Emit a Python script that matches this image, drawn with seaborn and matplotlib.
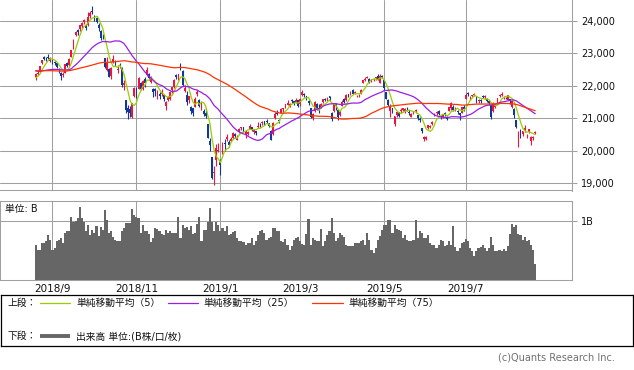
import numpy as np
import pandas as pd
import matplotlib
matplotlib.use("Agg")
import matplotlib.pyplot as plt
import seaborn as sns

# ---------------- data ----------------
holidays = ["2018-09-17", "2018-09-24", "2018-10-08", "2018-11-23", "2018-12-24",
            "2018-12-31", "2019-01-01", "2019-01-02", "2019-01-03", "2019-01-14",
            "2019-02-11", "2019-03-21", "2019-04-29", "2019-04-30", "2019-05-01",
            "2019-05-02", "2019-05-03", "2019-05-06", "2019-07-15", "2019-08-12"]
first_day = "2018-08-22"
last_day = "2019-08-19"

# closes before the first shown day (only used to seed the moving averages)
prior_close = [22473, 22467, 22509, 22409, 22497, 22758, 22865, 22818, 22717, 22838,
               22930, 23002, 22960, 22689, 22437, 22450, 22481, 22358, 22018, 22201,
               22171, 22475, 22539, 22625, 22823, 22694, 22804, 22878, 22966, 22738,
               22851, 22680, 22278, 22555, 22693, 22516, 22338, 22342, 22271, 22270, 22304,
               21811, 21785, 21717, 21546, 21788, 22052, 22196, 21932, 22187, 22597,
               22697, 22794, 22764, 22698, 22397, 22510, 22614, 22586, 22712, 22544, 22553,
               22746, 22512, 22525, 22507, 22662, 22644, 22598, 22298, 21857, 22356,
               22204, 22192, 22270, 22199, 22219]

open_ = [22260, 22350, 22450, 22700, 22900, 22850, 22880, 22780,
         22800, 22730, 22690, 22520, 22380, 22340, 22400, 22700, 22630, 22900, 23150, 23560, 23720, 23750, 23840, 23960, 23860, 23870,
         24150, 24320, 24160, 24100, 23870, 23690, 23520, 22850, 22490, 22520, 22300, 22720, 22780, 22480, 22620, 22560, 22010, 21560, 21300, 21270, 21050, 21690,
         21910, 21900, 22100, 21900, 22200, 22320, 22370, 22110, 21900, 21890, 21700, 21760, 21740, 21720, 21390, 21570, 21590, 21870, 21960, 22330, 22220,
         22680, 22450, 21830, 21720, 21560, 21360, 21300, 21350, 21750, 21560, 21320, 21230, 21170, 20820, 20310, 19790, 19300, 19700, 20000,
         19650, 19940, 20220, 20370, 20270, 20300, 20380, 20500, 20340, 20560, 20690, 20720, 20490, 20510, 20680, 20720, 20580, 20600, 20740,
         20800, 20840, 20900, 20910, 20850, 20620, 20500, 21000, 21150, 20950, 21170, 21290, 21380, 21420, 21390, 21550, 21540, 21480, 21550,
         21430, 21720, 21760, 21670, 21540, 21330, 21020, 21210, 21440, 21330, 21360, 21500, 21600, 21560, 21690, 21170, 21210, 21450, 21240, 21090,
         21380, 21600, 21560, 21740, 21730, 21860, 21760, 21680, 21710, 21760, 22100, 22180, 22250, 22210, 22130, 22210, 22230, 22300, 22100, 22290,
         22170, 21800, 21570, 21220, 21300, 20830, 21100, 21180, 21230, 21260, 21200, 21290, 21200, 21050, 21170, 21230, 21100, 20990, 20700,
         20350, 20360, 20700, 20730, 20830, 21090, 21150, 21210, 21070, 21040, 21150, 21030, 21220, 21300, 21360, 21280, 21230, 21150, 21170, 21340,
         21600, 21780, 21620, 21690, 21720, 21660, 21540, 21560, 21700, 21640, 21600, 21520, 21410, 21220, 21350, 21450, 21670, 21720, 21640, 21630, 21560, 21580,
         21360, 21290, 20940, 20340, 20590, 20500, 20610, 20450, 20580, 20290, 20400, 20530]

high = [22380, 22480, 22620, 22810, 22930, 22900, 22970, 22900,
        22830, 22760, 22710, 22560, 22440, 22430, 22680, 22730, 22850, 23100, 23430, 23690, 23740, 23880, 23970, 24060, 23900, 24290,
        24300, 24450, 24180, 24140, 23930, 23730, 23590, 22870, 22880, 22560, 22570, 22960, 22800, 22630, 22700, 22580, 22180, 21570, 21400, 21390, 21480, 21950,
        21950, 22270, 22110, 22180, 22260, 22580, 22390, 22300, 21920, 21920, 21870, 21800, 21900, 21730, 21530, 21690, 21830, 21960, 22200, 22370, 22360,
        22700, 22480, 22040, 21840, 21700, 21370, 21310, 21640, 21880, 21600, 21530, 21290, 21310, 20830, 20400, 19790, 19530, 20210, 20250,
        19730, 20270, 20350, 20500, 20320, 20430, 20560, 20550, 20480, 20700, 20740, 20720, 20630, 20600, 20830, 20730, 20680, 20620, 20880,
        20850, 20900, 20920, 20980, 20860, 20640, 20880, 21200, 21240, 20990, 21300, 21330, 21450, 21560, 21470, 21600, 21540, 21610, 21550,
        21620, 21860, 21790, 21700, 21570, 21330, 21170, 21540, 21460, 21450, 21480, 21590, 21630, 21650, 21690, 21200, 21430, 21450, 21270, 21260,
        21560, 21610, 21740, 21760, 21830, 21900, 21830, 21720, 21740, 21900, 22190, 22280, 22310, 22230, 22210, 22240, 22270, 22360, 22370, 22320,
        22180, 21810, 21600, 21440, 21330, 21080, 21230, 21190, 21330, 21330, 21300, 21340, 21250, 21160, 21220, 21280, 21110, 21040, 20710,
        20440, 20440, 20800, 20800, 20900, 21170, 21230, 21260, 21090, 21140, 21180, 21060, 21360, 21500, 21420, 21350, 21260, 21160, 21340, 21410,
        21780, 21800, 21680, 21730, 21770, 21680, 21590, 21600, 21710, 21710, 21610, 21560, 21430, 21490, 21440, 21630, 21750, 21820, 21690, 21660, 21730, 21590,
        21560, 21300, 20940, 20590, 20670, 20610, 20780, 20520, 20680, 20440, 20450, 20620]

low = [22180, 22330, 22420, 22680, 22790, 22780, 22840, 22740,
       22660, 22640, 22550, 22400, 22170, 22280, 22380, 22580, 22610, 22880, 23130, 23530, 23570, 23700, 23790, 23900, 23720, 23850,
       24100, 24210, 24000, 23950, 23700, 23400, 23430, 22550, 22470, 22260, 22210, 22710, 22600, 22400, 22550, 21950, 21860, 21170, 20970, 21050, 21010, 21640,
       21620, 21890, 21860, 21860, 21970, 22310, 22170, 22100, 21650, 21700, 21580, 21600, 21700, 21540, 21240, 21530, 21570, 21780, 21920, 22200, 22180,
       22500, 22000, 21800, 21410, 21470, 21130, 21060, 21340, 21700, 21340, 21240, 21080, 21000, 20390, 20000, 19120, 18950, 19530, 19950,
       19240, 19890, 19990, 20300, 20110, 20290, 20370, 20400, 20330, 20540, 20640, 20580, 20400, 20490, 20660, 20600, 20520, 20480, 20690,
       20730, 20780, 20780, 20840, 20720, 20330, 20480, 20980, 21090, 20850, 21160, 21190, 21330, 21400, 21360, 21480, 21420, 21460, 21360,
       21390, 21700, 21640, 21550, 21420, 21010, 20940, 21200, 21240, 21150, 21310, 21480, 21520, 21540, 21520, 20910, 21180, 21240, 20960, 21060,
       21370, 21480, 21540, 21640, 21710, 21740, 21740, 21640, 21640, 21750, 22080, 22150, 22230, 22080, 22110, 22150, 22180, 22190, 22080, 22230,
       21880, 21600, 21380, 21040, 21150, 20750, 21050, 21040, 21150, 21220, 21170, 21230, 21110, 21030, 21140, 21160, 20930, 20870, 20550,
       20290, 20330, 20670, 20690, 20800, 21070, 21100, 21100, 20980, 21000, 21070, 20930, 21210, 21250, 21210, 21220, 21130, 20960, 21160, 21230,
       21590, 21690, 21560, 21650, 21680, 21470, 21480, 21460, 21610, 21600, 21510, 21420, 20990, 21200, 21320, 21430, 21660, 21700, 21590, 21580, 21550, 21440,
       21330, 21000, 20700, 20110, 20400, 20450, 20580, 20400, 20530, 20180, 20320, 20520]

close = [22362, 22410, 22601, 22799, 22813, 22848, 22869, 22865,
         22707, 22697, 22580, 22487, 22307, 22373, 22664, 22604, 22821, 23094, 23420, 23672, 23674, 23869, 23940, 24033, 23796, 24120,
         24245, 24270, 24110, 23975, 23784, 23469, 23506, 22590, 22694, 22271, 22549, 22841, 22658, 22532, 22614, 22010, 22091, 21268, 21184, 21149, 21457, 21920,
         21687, 22243, 21898, 22147, 22085, 22486, 22250, 22269, 21810, 21846, 21803, 21680, 21821, 21583, 21507, 21646, 21812, 21952, 22177, 22262, 22351,
         22574, 22036, 21919, 21501, 21678, 21219, 21148, 21602, 21816, 21374, 21506, 21115, 21060, 20392, 20166, 19155, 19327, 20077, 20015,
         19561, 20038, 20204, 20427, 20163, 20360, 20555, 20443, 20402, 20666, 20719, 20622, 20593, 20574, 20774, 20649, 20665, 20557, 20773,
         20788, 20884, 20844, 20874, 20751, 20333, 20864, 21144, 21140, 20901, 21281, 21302, 21431, 21464, 21426, 21528, 21449, 21556, 21385,
         21603, 21822, 21726, 21597, 21456, 21025, 21125, 21504, 21291, 21287, 21451, 21584, 21567, 21609, 21627, 20977, 21429, 21378, 21033, 21206,
         21509, 21505, 21713, 21725, 21808, 21762, 21802, 21688, 21711, 21871, 22169, 22221, 22278, 22091, 22200, 22218, 22260, 22200, 22308, 22259,
         21923, 21602, 21402, 21345, 21191, 21067, 21189, 21063, 21250, 21302, 21272, 21283, 21151, 21117, 21183, 21260, 21003, 20943, 20601,
         20410, 20409, 20776, 20774, 20885, 21134, 21204, 21130, 21032, 21117, 21125, 20972, 21334, 21462, 21259, 21286, 21194, 21087, 21338, 21276,
         21730, 21754, 21638, 21702, 21747, 21534, 21566, 21533, 21644, 21686, 21535, 21470, 21047, 21467, 21417, 21620, 21710, 21757, 21659, 21617, 21709, 21522,
         21541, 21088, 20720, 20586, 20517, 20593, 20685, 20455, 20655, 20405, 20419, 20563]

# volume in billions
volume = [0.60, 0.52, 0.52, 0.63, 0.63, 0.66, 0.76, 0.69, 0.52, 0.55,
          0.67, 0.69, 0.72, 0.63, 0.80, 0.83, 0.83, 1.07, 0.99, 1.00,
          1.06, 1.24, 1.06, 0.99, 0.83, 0.93, 0.77, 0.86, 0.80, 0.92,
          0.75, 0.90, 0.86, 1.19, 1.03, 0.80, 0.83, 0.73, 0.69, 0.66,
          0.67, 0.83, 0.88, 0.97, 0.97, 0.97, 1.21, 1.11, 1.08, 1.05,
          0.80, 0.93, 0.83, 0.83, 0.79, 0.65, 0.72, 0.89, 0.87, 0.83,
          0.79, 0.76, 0.86, 0.80, 0.83, 0.80, 0.80, 0.80, 1.08, 0.72,
          0.93, 0.89, 0.90, 0.86, 0.92, 0.79, 0.80, 0.95, 1.08, 0.66,
          0.86, 0.86, 0.99, 1.23, 0.99, 0.83, 0.99, 0.94, 0.83, 0.89,
          0.83, 0.92, 0.76, 0.79, 0.82, 0.83, 0.72, 0.67, 0.67, 0.65,
          0.60, 0.63, 0.63, 0.71, 0.60, 0.67, 0.77, 0.83, 0.86, 0.80,
          0.69, 0.72, 0.73, 0.89, 0.88, 0.83, 0.83, 0.67, 0.65, 0.70,
          0.60, 0.52, 0.58, 0.69, 0.72, 0.73, 0.66, 0.62, 0.60, 0.79,
          1.04, 0.60, 0.71, 0.69, 0.67, 0.67, 0.87, 0.58, 0.66, 0.76,
          0.83, 1.06, 0.81, 0.66, 0.72, 0.80, 0.77, 0.73, 0.60, 0.58,
          0.58, 0.58, 0.63, 0.63, 0.63, 0.66, 0.69, 0.60, 0.80, 0.69,
          0.52, 0.46, 0.55, 0.69, 0.75, 0.86, 0.94, 0.94, 1.03, 1.02,
          0.80, 0.94, 0.87, 0.86, 0.83, 0.72, 0.77, 0.69, 0.67, 0.67,
          0.69, 1.03, 0.72, 0.83, 0.81, 0.71, 0.72, 0.76, 0.63, 0.60,
          0.60, 0.55, 0.60, 0.69, 0.66, 0.58, 0.60, 0.67, 0.60, 0.92,
          0.56, 0.49, 0.55, 0.64, 0.65, 0.70, 0.67, 0.54, 0.49, 0.41,
          0.49, 0.55, 0.56, 0.60, 0.55, 0.50, 0.55, 0.73, 0.60, 0.49,
          0.50, 0.52, 0.49, 0.53, 0.49, 0.58, 0.79, 0.96, 0.90, 0.94,
          0.79, 0.76, 0.68, 0.73, 0.67, 0.69, 0.59, 0.52, 0.28]

tick_months = ["2018-09", "2018-11", "2019-01", "2019-03", "2019-05", "2019-07"]
month_labels = ["2018/9", "2018/11", "2019/1", "2019/3", "2019/5", "2019/7"]
price_ticks = [19000, 20000, 21000, 22000, 23000, 24000]
ma_windows = [5, 25, 75]
ma_names = ["単純移動平均（5）", "単純移動平均（25）", "単純移動平均（75）"]

# ---------------- styling ----------------
sns.set_theme(style="white")
plt.rcParams['font.family'] = ['DejaVu Sans', 'Noto Sans CJK JP']
plt.rcParams['axes.unicode_minus'] = False

W, H = 634, 370
fig = plt.figure(figsize=(W / 100, H / 100), dpi=100)
fig.patch.set_facecolor('white')


def px_axes(x0, y0, x1, y1):
    return fig.add_axes([x0 / W, 1 - y1 / H, (x1 - x0) / W, (y1 - y0) / H])


GRID = '#a0a0a0'
UP = '#f0143c'
DOWN = '#10389a'
MA_COLORS = ['#9acd00', '#9a1ee6', '#ff3300']
VOL_COLOR = '#666666'

dates = pd.bdate_range(first_day, last_day, freq='C', holidays=holidays)
n = len(close)
idx = np.arange(n)
o = np.array(open_, float)
h = np.array(high, float)
l = np.array(low, float)
c = np.array(close, float)
month_idx = [int(np.searchsorted(dates.values, np.datetime64(m + "-01"))) for m in tick_months]

all_close = pd.Series(prior_close + close, dtype=float)
mas = [all_close.rolling(w).mean().to_numpy()[-n:] for w in ma_windows]

XLIM = (-17.0, 255.3)

# ---------------- price panel ----------------
ax = px_axes(0, 0, 571.5, 190.5)
ax.set_facecolor('white')
up = c >= o
cols = np.where(up, UP, DOWN)
ax.vlines(idx, l, h, colors=cols, linewidth=0.8, zorder=2)
body_bottom = np.minimum(o, c)
body_h = np.maximum(np.abs(c - o), 12)
ax.bar(idx, body_h, bottom=body_bottom, width=0.85, color=cols, linewidth=0, zorder=3)
for ma, col in zip(mas, MA_COLORS):
    sns.lineplot(x=idx, y=ma, ax=ax, color=col, linewidth=0.9, zorder=4, legend=False)

ax.set_xlim(*XLIM)
ax.set_ylim(18769, 24648)
ax.set_xticks(month_idx)
ax.set_xticklabels([])
ax.set_yticks(price_ticks)
ax.yaxis.tick_right()
ax.set_yticklabels([f"{v:,}" for v in price_ticks])
ax.tick_params(axis='y', which='both', right=True, left=False, length=3.6, width=0.75,
               color=GRID, pad=3.4, labelsize=7, labelcolor='#111111')
ax.tick_params(axis='x', length=0)
ax.grid(True, color=GRID, linewidth=0.75)
ax.set_axisbelow(True)
ax.set_xlabel('')
ax.set_ylabel('')
for s in ['top', 'left']:
    ax.spines[s].set_visible(False)
for s in ['bottom', 'right']:
    ax.spines[s].set_color(GRID)
    ax.spines[s].set_linewidth(0.75)

# ---------------- volume panel ----------------
axv = px_axes(0, 201.3, 571.5, 280.3)
axv.set_facecolor('white')
sns.barplot(x=idx, y=volume, native_scale=True, color=VOL_COLOR, saturation=1,
            width=1.0, errorbar=None, linewidth=0, ax=axv, zorder=2)
for p in axv.patches:
    p.set_antialiased(False)
axv.set_xlim(*XLIM)
axv.set_ylim(0, 1.339)
axv.set_yticks([1.0])
axv.yaxis.tick_right()
axv.set_yticklabels(['1B'])
axv.tick_params(axis='y', which='both', right=True, left=False, length=3.6, width=0.75,
                color=GRID, pad=3.4, labelsize=7, labelcolor='#111111')
axv.set_xticks(month_idx)
axv.set_xticklabels(month_labels)
axv.tick_params(axis='x', length=0, pad=2.5, labelsize=7.5, labelcolor='#111111')
axv.grid(True, color=GRID, linewidth=0.75)
axv.set_axisbelow(True)
axv.set_xlabel('')
axv.set_ylabel('')
for s in axv.spines.values():
    s.set_visible(True)
    s.set_color(GRID)
    s.set_linewidth(0.75)
fig.text(5 / W, 1 - 209 / H, '単位: B', fontsize=7, va='center', ha='left', color='#111111')

# ---------------- legend box ----------------
axl = px_axes(0.5, 295.3, 632.7, 346.3)
axl.set_xlim(0.5, 632.7)
axl.set_ylim(346.3, 295.3)
axl.set_xticks([])
axl.set_yticks([])
axl.set_facecolor('white')
for s in axl.spines.values():
    s.set_visible(True)
    s.set_color('black')
    s.set_linewidth(0.9)
row1, row2 = 303.0, 336.3
axl.text(7, row1, '上段：', fontsize=7, va='center', ha='left', color='#111111')
line_x = [(40, 70), (168, 198), (312, 343)]
text_x = [76, 203, 348]
for (x0, x1), tx, col, name in zip(line_x, text_x, MA_COLORS, ma_names):
    axl.plot([x0, x1], [row1, row1], color=col, linewidth=0.9)
    axl.text(tx, row1, name, fontsize=7, va='center', ha='left', color='#111111')
axl.text(7, row2, '下段：', fontsize=7, va='center', ha='left', color='#111111')
axl.plot([40, 70], [row2, row2], color=VOL_COLOR, linewidth=2.8, solid_capstyle='butt')
axl.text(76, row2, '出来高 単位:(B株/口/枚)', fontsize=7, va='center', ha='left', color='#111111')

fig.text(614.5 / W, 1 - 358 / H, '(c)Quants Research Inc.', fontsize=7, va='center',
         ha='right', color='#707070')

fig.savefig('out.png', dpi=100, facecolor='white')
